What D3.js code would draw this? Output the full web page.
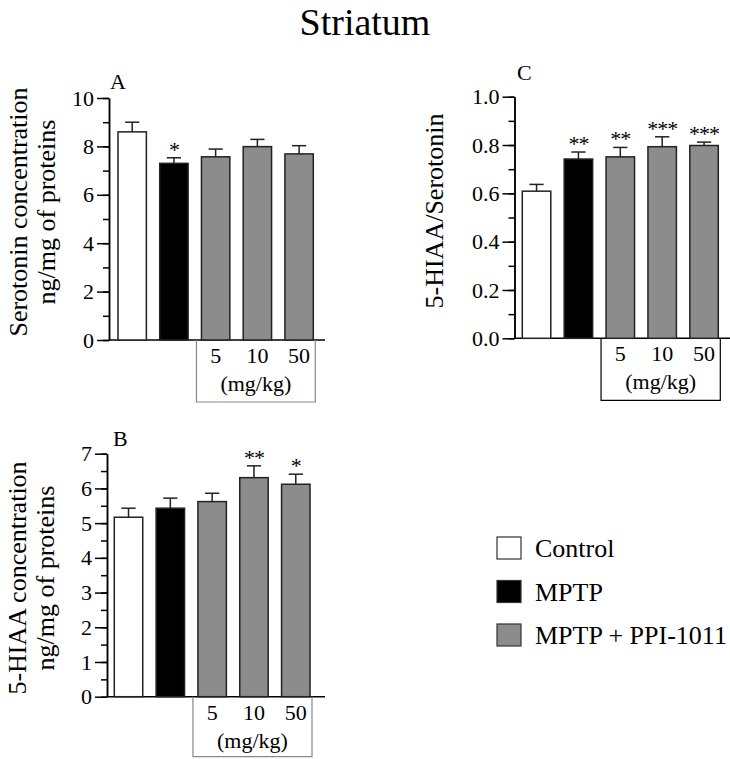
<!DOCTYPE html>
<html><head><meta charset="utf-8">
<script src="https://cdn.jsdelivr.net/npm/d3@7"></script>
<style>
html,body{margin:0;padding:0;background:#fff;}
svg text{font-family:"Liberation Serif","Times New Roman",Times,serif !important;fill:#000;}
</style></head>
<body>
<svg id="c" width="730" height="759" font-family="Liberation Serif, Times New Roman, serif"></svg>
<script>
const groups = ["Control", "MPTP", "5", "10", "50"];
const groupType = ["control", "mptp", "ppi", "ppi", "ppi"];
const doseLabels = ["", "", "5", "10", "50"];
const serotonin = [8.6, 7.3, 7.57, 7.99, 7.69];
const serotoninErr = [0.4, 0.23, 0.32, 0.3, 0.34];
const serotoninStars = ["", "*", "", "", ""];
const hiaa = [5.17, 5.43, 5.62, 6.31, 6.12];
const hiaaErr = [0.26, 0.29, 0.24, 0.34, 0.29];
const hiaaStars = ["", "", "", "**", "*"];
const ratio = [0.609, 0.742, 0.751, 0.793, 0.798];
const ratioErr = [0.028, 0.029, 0.039, 0.041, 0.014];
const ratioStars = ["", "**", "**", "***", "***"];
const legendLabels = ["Control", "MPTP", "MPTP + PPI-1011"];
const legendTypes = ["control", "mptp", "ppi"];

const FONT = "Liberation Serif, Times New Roman, serif";
const fills = {control: "#ffffff", mptp: "#000000", ppi: "#8c8c8c"};
const svg = d3.select("#c");

svg.append("text").attr("x", 365).attr("y", 35).attr("text-anchor", "middle")
  .style("font-size", "38px").text("Striatum");

function panel(o) {
  const g = svg.append("g");
  const y = d3.scaleLinear().domain([0, o.max]).range([o.y0, o.y1]);
  const x = d3.scaleBand().domain(groups).range([o.bx0, o.bx1]).paddingInner(0.32).paddingOuter(0);
  // minor ticks
  g.append("g").attr("transform", `translate(${o.ax},0)`)
    .call(d3.axisLeft(y).tickValues(d3.range(0, o.max + o.minor / 2, o.minor)).tickSize(6).tickSizeOuter(0).tickFormat(""))
    .call(s => s.selectAll("line,path").attr("stroke", "#000").attr("stroke-width", 1.5));
  // major ticks
  g.append("g").attr("transform", `translate(${o.ax},0)`)
    .call(d3.axisLeft(y).tickValues(d3.range(0, o.max + o.major / 2, o.major)).tickSize(12).tickSizeOuter(0).tickPadding(3).tickFormat(o.fmt))
    .attr("font-family", FONT).attr("font-size", 22)
    .call(s => s.selectAll("line,path").attr("stroke", "#000").attr("stroke-width", 1.5))
    .call(s => s.selectAll("text").style("font-size", "22px"));
  // x axis
  g.append("line").attr("x1", o.ax).attr("x2", o.axEnd).attr("y1", y(0)).attr("y2", y(0))
    .attr("stroke", "#000").attr("stroke-width", 1.5);
  // bars
  g.selectAll("rect.bar").data(groups).join("rect").attr("class", "bar")
    .attr("x", d => x(d)).attr("width", x.bandwidth())
    .attr("y", (d, i) => y(o.vals[i])).attr("height", (d, i) => y(0) - y(o.vals[i]))
    .attr("fill", (d, i) => fills[groupType[i]]).attr("stroke", "#222").attr("stroke-width", 1.5);
  // error bars
  const eg = g.selectAll("g.err").data(groups).join("g").attr("class", "err");
  eg.append("line").attr("x1", d => x(d) + x.bandwidth() / 2).attr("x2", d => x(d) + x.bandwidth() / 2)
    .attr("y1", (d, i) => y(o.vals[i])).attr("y2", (d, i) => y(o.vals[i] + o.errs[i]))
    .attr("stroke", "#222").attr("stroke-width", 1.5);
  eg.append("line").attr("x1", d => x(d) + x.bandwidth() / 4).attr("x2", d => x(d) + x.bandwidth() * 3 / 4)
    .attr("y1", (d, i) => y(o.vals[i] + o.errs[i])).attr("y2", (d, i) => y(o.vals[i] + o.errs[i]))
    .attr("stroke", "#222").attr("stroke-width", 1.5);
  // stars
  g.selectAll("text.star").data(groups).join("text").attr("class", "star")
    .attr("x", d => x(d) + x.bandwidth() / 2).attr("y", (d, i) => y(o.vals[i] + o.errs[i]) - 1)
    .attr("text-anchor", "middle").style("font-size", "22px").style("letter-spacing", "-1px")
    .text((d, i) => o.stars[i]);
  // dose box
  const b0 = x(groups[2]) - 5, b1 = x(groups[4]) + x.bandwidth() + 2;
  const yb = y(0) + o.boxH;
  g.append("path").attr("d", `M${b0},${y(0)}V${yb}H${b1}V${y(0)}`)
    .attr("fill", "none").attr("stroke", o.boxColor).attr("stroke-width", 1.2);
  g.selectAll("text.dose").data(groups).join("text").attr("class", "dose")
    .attr("x", d => x(d) + x.bandwidth() / 2).attr("y", y(0) + 23)
    .attr("text-anchor", "middle").style("font-size", "22px").text((d, i) => doseLabels[i]);
  g.append("text").attr("x", (b0 + b1) / 2).attr("y", y(0) + 51).attr("text-anchor", "middle")
    .style("font-size", "22px").text("(mg/kg)");
  // panel letter
  g.append("text").attr("x", o.lx).attr("y", o.ly).style("font-size", "22px").text(o.letter);
  // y labels
  o.ylab.forEach((t, i) => {
    g.append("text").attr("transform", `translate(${o.ylx[i]},${o.lcy}) rotate(-90)`)
      .attr("text-anchor", "middle").attr("dominant-baseline", "central")
      .style("font-size", "26px").text(t);
  });
}

panel({vals: serotonin, errs: serotoninErr, stars: serotoninStars, max: 10, major: 2, minor: 1,
  fmt: d3.format("d"), y0: 340, y1: 98, ax: 109, axEnd: 325, bx0: 118, bx1: 313.3,
  boxH: 62, boxColor: "#888", letter: "A", lx: 110, ly: 89,
  ylab: ["Serotonin concentration", "ng/mg of proteins"], ylx: [18, 46], lcy: 212});

panel({vals: hiaa, errs: hiaaErr, stars: hiaaStars, max: 7, major: 1, minor: 0.5,
  fmt: d3.format("d"), y0: 696.7, y1: 453.7, ax: 107, axEnd: 325, bx0: 114.3, bx1: 310,
  boxH: 60, boxColor: "#888", letter: "B", lx: 113, ly: 446,
  ylab: ["5-HIAA concentration", "ng/mg of proteins"], ylx: [17, 45], lcy: 578});

panel({vals: ratio, errs: ratioErr, stars: ratioStars, max: 1, major: 0.2, minor: 0.1,
  fmt: d3.format(".1f"), y0: 338.3, y1: 96.7, ax: 514.5, axEnd: 730, bx0: 522.3, bx1: 718.3,
  boxH: 62, boxColor: "#000", letter: "C", lx: 517, ly: 80,
  ylab: ["5-HIAA/Serotonin"], ylx: [434], lcy: 211});

// legend
const ly = d3.scalePoint().domain(legendLabels).range([548, 635]);
const lg = svg.append("g");
lg.selectAll("rect").data(legendLabels).join("rect")
  .attr("x", 497).attr("y", d => ly(d) - 11).attr("width", 24).attr("height", 22)
  .attr("fill", (d, i) => fills[legendTypes[i]]).attr("stroke", "#333").attr("stroke-width", 1.2);
lg.selectAll("text").data(legendLabels).join("text")
  .attr("x", 535).attr("y", d => ly(d) + 9).style("font-size", "26px").text(d => d);
</script>
</body></html>
